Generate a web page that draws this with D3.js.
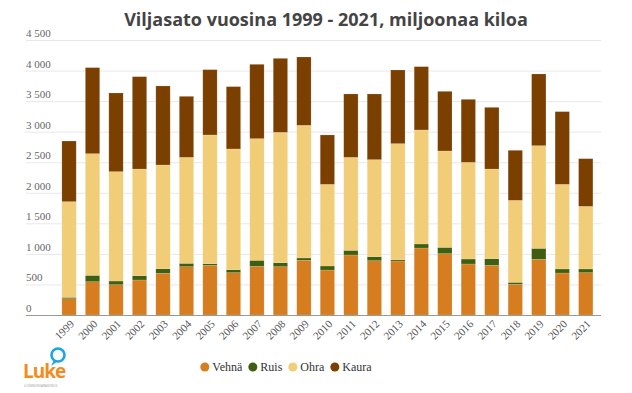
<!DOCTYPE html>
<html>
<head>
<meta charset="utf-8">
<script src="https://cdn.jsdelivr.net/npm/d3@7"></script>
<style>
  body { margin: 0; background: #fff; }
  svg { display: block; }
  .serif { font-family: "Liberation Serif", "DejaVu Serif", "Times New Roman", serif; }
</style>
</head>
<body>
<svg id="chart" width="632" height="393"></svg>
<script>
// data (miljoonaa kiloa)
var years = ["1999", "2000", "2001", "2002", "2003", "2004", "2005", "2006", "2007", "2008", "2009", "2010",
  "2011", "2012", "2013", "2014", "2015", "2016", "2017", "2018", "2019", "2020", "2021"];
var vehna = [267, 545, 496, 573, 682, 791, 813, 693, 796, 791, 895, 736,
  982, 889, 884, 1096, 1004, 835, 813, 502, 911, 687, 693];
var ruis = [22, 104, 60, 71, 76, 55, 27, 49, 99, 65, 38, 66,
  76, 66, 22, 66, 103, 81, 109, 33, 180, 66, 60];
var ohra = [1566, 1991, 1790, 1745, 1697, 1734, 2106, 1975, 1991, 2133, 2171, 1336,
  1522, 1587, 1898, 1866, 1577, 1582, 1467, 1341, 1680, 1385, 1025];
var kaura = [992, 1408, 1287, 1511, 1293, 998, 1069, 1020, 1216, 1211, 1118, 808,
  1037, 1075, 1205, 1036, 976, 1031, 1009, 819, 1173, 1190, 780];
var seriesNames = ["Vehnä", "Ruis", "Ohra", "Kaura"];
var yTicks = [0, 500, 1000, 1500, 2000, 2500, 3000, 3500, 4000, 4500];

var colors = ["#d67d1f", "#3e5f10", "#f0cd76", "#7b4000"];

var rows = years.map(function(y, i) {
  return { year: y, "Vehnä": vehna[i], "Ruis": ruis[i], "Ohra": ohra[i], "Kaura": kaura[i] };
});

var svg = d3.select("#chart");

var gridLeft = 26, gridRight = 601;

var x = d3.scaleBand()
  .domain(years)
  .range([57.3, 597.5])
  .paddingInner(0.39)
  .paddingOuter(0.195);

var y = d3.scaleLinear().domain([0, 4500]).range([315, 40]);

var fmt = function(v) {
  return d3.format(",")(v).replace(/,/g, " ");
};

// title
svg.append("text")
  .attr("x", 326)
  .attr("y", 26)
  .attr("text-anchor", "middle")
  .style("font-family", "'Open Sans'")
  .style("font-weight", "700")
  .style("font-size", "18px")
  .style("fill", "#444")
  .text("Viljasato vuosina 1999 - 2021, miljoonaa kiloa");

// gridlines + y labels
var grid = svg.append("g");
grid.selectAll("line")
  .data(yTicks.filter(function(d) { return d > 0; }))
  .enter()
  .append("line")
  .attr("x1", gridLeft)
  .attr("x2", gridRight)
  .attr("y1", function(d) { return y(d) + 0.5; })
  .attr("y2", function(d) { return y(d) + 0.5; })
  .attr("stroke", "#e8e8e8")
  .attr("stroke-width", 1);

grid.selectAll("text")
  .data(yTicks)
  .enter()
  .append("text")
  .attr("class", "serif")
  .attr("x", gridLeft)
  .attr("y", function(d) { return y(d) - 3; })
  .style("font-size", "11px")
  .style("fill", "#666")
  .text(fmt);

// stacked bars
var stack = d3.stack().keys(seriesNames);
var layers = stack(rows);

svg.append("g")
  .selectAll("g")
  .data(layers)
  .enter()
  .append("g")
  .attr("fill", function(d, i) { return colors[i]; })
  .selectAll("rect")
  .data(function(d) { return d; })
  .enter()
  .append("rect")
  .attr("x", function(d) { return x(d.data.year); })
  .attr("y", function(d) { return y(d[1]); })
  .attr("width", x.bandwidth())
  .attr("height", function(d) { return y(d[0]) - y(d[1]); })
  .attr("stroke", "rgba(255,255,255,0.25)")
  .attr("stroke-width", 0.6);

// x axis line
svg.append("line")
  .attr("x1", gridLeft)
  .attr("x2", gridRight)
  .attr("y1", 315.5)
  .attr("y2", 315.5)
  .attr("stroke", "#999")
  .attr("stroke-width", 1.2);

// x labels
svg.append("g")
  .selectAll("text")
  .data(years)
  .enter()
  .append("text")
  .attr("class", "serif")
  .attr("transform", function(d) {
    return "translate(" + (x(d) + x.bandwidth() / 2 + 3) + ",322) rotate(-45)";
  })
  .attr("text-anchor", "end")
  .attr("dy", "0.35em")
  .style("font-size", "11px")
  .style("fill", "#555")
  .text(function(d) { return d; });

// legend, laid out from measured text widths and centred
var legend = svg.append("g");
var cursor = 0;
seriesNames.forEach(function(name, i) {
  legend.append("circle")
    .attr("cx", cursor + 4.5)
    .attr("cy", 367)
    .attr("r", 4.5)
    .attr("fill", colors[i]);
  var t = legend.append("text")
    .attr("class", "serif")
    .attr("x", cursor + 12)
    .attr("y", 371)
    .style("font-size", "12px")
    .style("fill", "#333")
    .text(name);
  cursor += 12 + t.node().getComputedTextLength() + 6;
});
var legendW = cursor - 6;
legend.attr("transform", "translate(" + (286 - legendW / 2) + ",0)");

// Luke logo
var logo = svg.append("g");
logo.append("circle")
  .attr("cx", 58)
  .attr("cy", 355)
  .attr("r", 6.5)
  .attr("fill", "none")
  .attr("stroke", "#1ba6dd")
  .attr("stroke-width", 2.6);
logo.append("path")
  .attr("d", "M54,360 L51,366 L58,361 Z")
  .attr("fill", "#1ba6dd");
logo.append("text")
  .attr("x", 23)
  .attr("y", 378)
  .style("font-family", "'Open Sans'")
  .style("font-weight", "700")
  .style("font-size", "19px")
  .style("letter-spacing", "-1px")
  .style("fill", "#f28c1c")
  .text("Luke");
logo.append("text")
  .attr("x", 24)
  .attr("y", 387)
  .style("font-family", "'Open Sans'")
  .style("font-size", "3px")
  .style("fill", "#999")
  .text("LUONNONVARAKESKUS");
</script>
</body>
</html>
